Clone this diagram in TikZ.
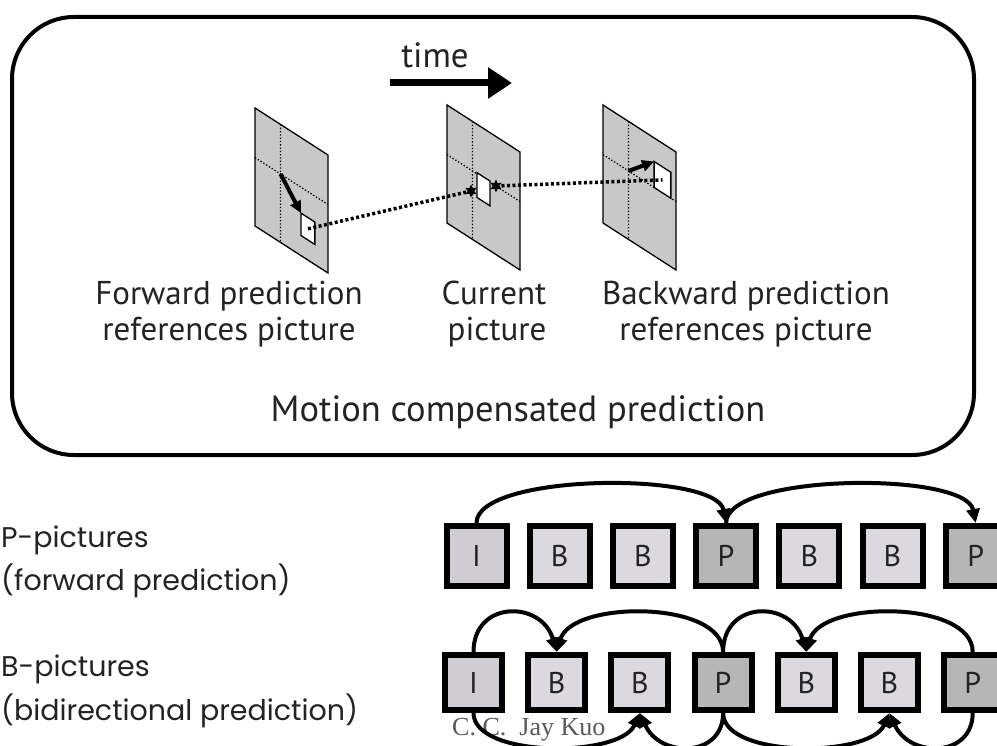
\documentclass[tikz,border=0pt]{standalone}
\usepackage{fontspec}
\setmainfont{PT Sans}
\newfontfamily\widefont{Poppins}
\newfontfamily\notefont{Liberation Serif}
\usetikzlibrary{arrows.meta,shapes.geometric}

\definecolor{framegray}{RGB}{200,200,200}
\definecolor{ifill}{RGB}{208,204,212}
\definecolor{bfill}{RGB}{220,216,224}
\definecolor{pfill}{RGB}{182,182,182}
\definecolor{ink}{RGB}{35,35,35}

\begin{document}
\begin{tikzpicture}[x=1pt,y=-1pt,
    lbl/.style={text=ink,font=\fontsize{33}{36}\selectfont,inner sep=0},
    side/.style={text=ink,font=\widefont\fontsize{28.5}{33}\selectfont,inner sep=0,anchor=base west},
    gop/.style={draw,line width=6,inner sep=0,text=ink,font=\fontsize{30}{30}\selectfont},
    gopedge/.style={line width=4,-{Triangle[length=14pt,width=13pt]}},
    mvline/.style={line width=3.5,dash pattern=on 3 off 2.5},
    mvarrow/.style={line width=4,-{Triangle[length=12pt,width=11pt]}},
    mvstar/.style={star,star points=6,star point ratio=2,fill,inner sep=0,minimum size=13}]
    \useasboundingbox (0,0) rectangle (997,746);
    \clip (0,0) rectangle (997,746);

    % upper panel
    \draw[line width=4,rounded corners=62] (12,17) rectangle (974,455);
    \node[lbl,anchor=base,font=\fontsize{35}{36}\selectfont] (time) at (435,68) {time};
    \coordinate (t0) at (390,83);
    \coordinate (t1) at (512,83);
    \draw[line width=7,-{Triangle[length=24pt,width=30pt]}] (t0) -- (t1);

    % three frames, each with its block
    \foreach \nm/\px/\py/\ua/\ub/\va/\vb in {fwd/255/108/0.63/0.82/0.64/0.83,
        cur/447/105/0.41/0.59/0.41/0.62, bwd/603/105/0.70/0.93/0.20/0.42} {
        \begin{scope}[shift={(\px,\py)},x={(73pt,-47pt)},y={(0pt,-118pt)}]
            \filldraw[fill=framegray,line width=1.3] (0,0) -- (1,0) -- (1,1) -- (0,1) -- cycle;
            \draw[line width=1.3,dotted] (0.35,0) -- (0.35,1) (0,0.42) -- (1,0.42);
            \filldraw[fill=white,line width=1.3] (\ua,\va) -- (\ub,\va) -- (\ub,\vb) -- (\ua,\vb) -- cycle;
            \coordinate (\nm-mid) at ({(\ua+\ub)/2},{(\va+\vb)/2});
            \coordinate (\nm-tl) at (\ua,\va);
            \coordinate (\nm-x) at (0.35,0.42);
        \end{scope}
      }
    \coordinate (curin) at (471,191);
    \coordinate (curout) at (496,186);

    \draw[mvarrow] (fwd-x) -- (fwd-tl);
    \draw[mvarrow] (bwd-x) -- (bwd-tl);
    \draw[mvline] (fwd-mid) -- (curin);
    \draw[mvline] (curout) -- (bwd-mid);
    \node[mvstar] (sin) at (curin) {};
    \node[mvstar] (sout) at (curout) {};

    \node[lbl,anchor=base] (fwd1) at (229,305) {Forward prediction};
    \node[lbl,anchor=base] (fwd2) at (229,341) {references picture};
    \node[lbl,anchor=base] (cur1) at (494,305) {Current};
    \node[lbl,anchor=base] (cur2) at (497,341) {picture};
    \node[lbl,anchor=base] (bwd1) at (746,305) {Backward prediction};
    \node[lbl,anchor=base] (bwd2) at (746,341) {references picture};
    \node[lbl,anchor=base,font=\fontsize{36.5}{38}\selectfont] (mcp) at (518,421) {Motion compensated prediction};

    % picture types
    \node[side] (ptype1) at (1,547) {P-pictures};
    \node[side] (ptype2) at (1,590) {(forward prediction)};
    \node[side] (btype1) at (1,676) {B-pictures};
    \node[side] (btype2) at (1,720) {(bidirectional prediction)};

    % group of pictures, twice
    \foreach \k/\lt/\cl in {1/I/ifill,2/B/bfill,3/B/bfill,4/P/pfill,5/B/bfill,6/B/bfill,7/P/pfill} {
        \node[gop,fill=\cl,minimum width=60,minimum height=60] (fw\k) at ({393.3+83.2*\k},556) {\lt};
        \node[gop,fill=\cl,minimum width=57,minimum height=55] (bi\k) at ({390.3+83.2*\k},682.5) {\lt};
      }
    \node[anchor=base west,inner sep=0,text=black!65,font=\notefont\fontsize{26}{28}\selectfont] (kuo) at (452,735) {C. C.\ \ Jay Kuo};

    \draw[gopedge] (fw1.north) .. controls +(0,-50) and +(-10,-52) .. (fw4.north);
    \draw[gopedge] (fw4.north) .. controls +(0,-50) and +(-10,-52) .. (fw7.north);

    \draw[gopedge] (bi1.north) .. controls +(0,-52) and +(-15,-52) .. (bi2.north);
    \draw[gopedge] (bi4.north) .. controls +(0,-52) and +(15,-52) .. (bi2.north);
    \draw[gopedge] (bi4.north) .. controls +(0,-52) and +(-15,-52) .. (bi5.north);
    \draw[gopedge] (bi7.north) .. controls +(0,-52) and +(15,-52) .. (bi5.north);
    \draw[gopedge] (bi1.south) .. controls +(0,45) and +(-20,45) .. (bi3.south);
    \draw[gopedge] (bi4.south) .. controls +(0,45) and +(20,45) .. (bi3.south);
    \draw[gopedge] (bi4.south) .. controls +(0,45) and +(-20,45) .. (bi6.south);
    \draw[gopedge] (bi7.south) .. controls +(0,45) and +(20,45) .. (bi6.south);
\end{tikzpicture}
\end{document}
